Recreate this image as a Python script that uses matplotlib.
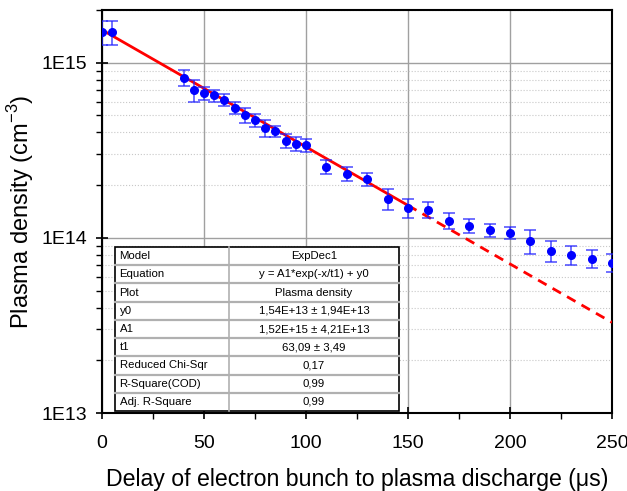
import numpy as np
import matplotlib
matplotlib.use("Agg")
import matplotlib.pyplot as plt
from matplotlib.patches import Rectangle
from matplotlib.ticker import FixedLocator, NullFormatter, LogLocator

plt.rcParams['font.family'] = ['Liberation Sans', 'DejaVu Sans']

delay = [0, 5, 40, 45, 50, 55, 60, 65, 70, 75, 80, 85, 90, 95, 100, 110, 120,
         130, 140, 150, 160, 170, 180, 190, 200, 210, 220, 230, 240, 250]
density = [1.50e15, 1.50e15, 8.2e14, 7.0e14, 6.7e14, 6.5e14, 6.15e14, 5.5e14, 5.05e14,
           4.72e14, 4.25e14, 4.08e14, 3.58e14, 3.44e14, 3.40e14, 2.55e14, 2.32e14,
           2.17e14, 1.67e14, 1.48e14, 1.45e14, 1.25e14, 1.17e14, 1.11e14, 1.07e14,
           9.6e13, 8.4e13, 8.0e13, 7.6e13, 7.2e13]
density_err = [2.4e14, 2.4e14, 8.5e13, 1.0e14, 5.5e13, 5.0e13, 4.8e13, 4.3e13, 5.0e13,
               4.0e13, 4.7e13, 3.0e13, 3.3e13, 3.2e13, 2.9e13, 2.3e13, 2.1e13,
               1.8e13, 2.2e13, 1.8e13, 1.6e13, 1.3e13, 1.05e13, 9.5e12, 8.5e12,
               1.5e13, 1.15e13, 1.0e13, 9.0e12, 8.5e12]

# exponential decay line (as drawn)
fit_A = 1.54e15
fit_tau = 65.0
fit_solid_end = 150
fit_end = 250

table_rows = [
    ("Model", "ExpDec1"),
    ("Equation", "y = A1*exp(-x/t1) + y0"),
    ("Plot", "Plasma density"),
    ("y0", "1,54E+13 \u00b1 1,94E+13"),
    ("A1", "1,52E+15 \u00b1 4,21E+13"),
    ("t1", "63,09 \u00b1 3,49"),
    ("Reduced Chi-Sqr", "0,17"),
    ("R-Square(COD)", "0,99"),
    ("Adj. R-Square", "0,99"),
]

x_ticks = [0, 50, 100, 150, 200, 250]
y_ticks = [1e13, 1e14, 1e15]
y_ticklabels = ["1E13", "1E14", "1E15"]

fig = plt.figure(figsize=(6.27, 4.91), dpi=100)
ax = fig.add_axes([102/627, 78/491, 510/627, 403/491])

ax.set_yscale('log')
ax.set_xlim(0, 250)
ax.set_ylim(1e13, 2.0e15)

# grid
ax.set_axisbelow(True)
ax.yaxis.set_minor_locator(LogLocator(base=10, subs=np.arange(2, 10)))
ax.yaxis.set_minor_formatter(NullFormatter())
ax.xaxis.set_minor_locator(FixedLocator([25, 75, 125, 175, 225]))
ax.grid(True, which='major', color='#a0a0a0', linewidth=1.0, linestyle='-')
ax.grid(True, which='minor', axis='y', color='#c8c8c8', linewidth=0.8, linestyle=':')

# fit lines
xs = np.linspace(0, fit_solid_end, 200)
xd = np.linspace(fit_solid_end, fit_end, 200)
ax.plot(xs, fit_A*np.exp(-xs/fit_tau), color='red', lw=2.0, zorder=4)
ax.plot(xd, fit_A*np.exp(-xd/fit_tau), color='red', lw=2.0, ls=(0, (3.5, 2.5)), zorder=4)

# data
ax.errorbar(delay, density, yerr=density_err, fmt='none', ecolor='#2020ff',
            elinewidth=1.2, capsize=4.5, capthick=1.2, alpha=0.75, zorder=5)
ax.plot(delay, density, 'o', color='#0000ff', markersize=5.5, zorder=6)

ax.set_xticks(x_ticks)
ax.set_yticks(y_ticks)
ax.set_yticklabels(y_ticklabels)
ax.tick_params(which='major', direction='inout', length=9, width=1.2, labelsize=14,
               top=False, right=False)
ax.tick_params(which='minor', direction='out', length=4, width=1.0, top=False, right=False)
ax.tick_params(axis='x', which='major', pad=11)
ax.tick_params(axis='y', which='major', pad=6)
for s in ax.spines.values():
    s.set_linewidth(1.5)
    s.set_color('black')

ax.set_xlabel("Delay of electron bunch to plasma discharge (\u03bcs)", fontsize=16.7, labelpad=12)
ax.set_ylabel("Plasma density (cm$^{\\mathregular{-3}}$)", fontsize=17, labelpad=4)

# table
tx0, tx1 = (115-102)/510, (399-102)/510
ty0, ty1 = (413-411)/403, (413-247)/403
tdiv = (229-102)/510
n = len(table_rows)
rh = (ty1 - ty0) / n
ax.add_patch(Rectangle((tx0, ty0), tx1-tx0, ty1-ty0, transform=ax.transAxes,
                       facecolor='white', edgecolor='black', lw=1.2, zorder=7))
for i in range(1, n):
    yy = ty1 - i*rh
    ax.plot([tx0, tx1], [yy, yy], transform=ax.transAxes, color='#b0b0b0', lw=1.6, zorder=8)
ax.plot([tdiv, tdiv], [ty0, ty1], transform=ax.transAxes, color='#b0b0b0', lw=1.2, zorder=8)
for i, (k, v) in enumerate(table_rows):
    yc = ty1 - (i+0.5)*rh
    ax.text(tx0 + 0.009, yc, k, transform=ax.transAxes, fontsize=8.2, va='center', ha='left', zorder=9)
    ax.text((tdiv+tx1)/2, yc, v, transform=ax.transAxes, fontsize=8.2, va='center', ha='center', zorder=9)

fig.savefig("out.png", dpi=100)
